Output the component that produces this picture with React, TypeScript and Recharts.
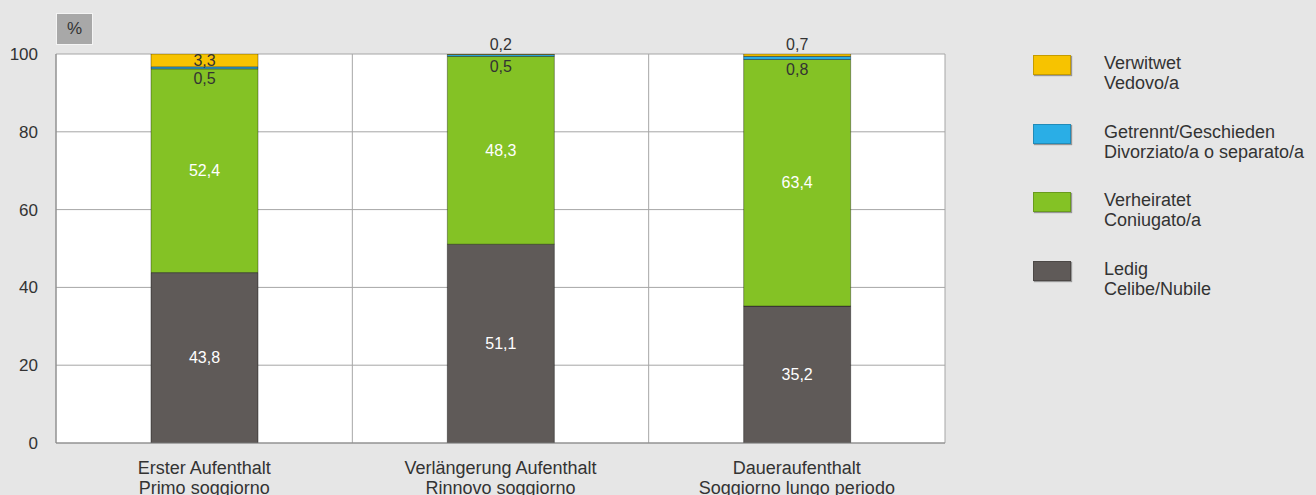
import React from 'react';
import {
  BarChart, Bar, XAxis, YAxis, CartesianGrid, LabelList,
} from 'recharts';

// categories: two-line labels (German / Italian)
const categoriesDe = ['Erster Aufenthalt', 'Verlängerung Aufenthalt', 'Daueraufenthalt'];
const categoriesIt = ['Primo soggiorno', 'Rinnovo soggiorno', 'Soggiorno lungo periodo'];

const ledig = [43.8, 51.1, 35.2];
const verheiratet = [52.4, 48.3, 63.4];
const getrennt = [0.5, 0.5, 0.8];
const verwitwet = [3.3, 0.2, 0.7];

const yTicks = [0, 20, 40, 60, 80, 100];

const series = [
  { key: 'ledig', de: 'Ledig', it: 'Celibe/Nubile', color: '#5f5a58' },
  { key: 'verheiratet', de: 'Verheiratet', it: 'Coniugato/a', color: '#84c225' },
  { key: 'getrennt', de: 'Getrennt/Geschieden', it: 'Divorziato/a o separato/a', color: '#2aaee6' },
  { key: 'verwitwet', de: 'Verwitwet', it: 'Vedovo/a', color: '#f7c300' },
];

const data = categoriesDe.map((c, i) => ({
  name: c,
  ledig: ledig[i],
  verheiratet: verheiratet[i],
  getrennt: getrennt[i],
  verwitwet: verwitwet[i],
}));

const FONT = '"Liberation Sans", Arial, sans-serif';
const fmt = (v: number) => String(v).replace('.', ',');

const CategoryTick = (props: any) => {
  const { x, y, payload, index } = props;
  return (
    <text x={x} y={y} textAnchor="middle" fill="#333" fontSize={18} fontFamily={FONT}>
      <tspan x={x} dy={23}>{payload.value}</tspan>
      <tspan x={x} dy={20}>{categoriesIt[index]}</tspan>
    </text>
  );
};

const centerLabel = (props: any) => {
  const { x, y, width, height, value } = props;
  return (
    <text x={x + width / 2} y={y + height / 2} textAnchor="middle" dominantBaseline="central"
      fill="#fff" fontSize={16} fontFamily={FONT}>{fmt(value)}</text>
  );
};

const belowLabel = (props: any) => {
  const { x, y, width, height, value } = props;
  return (
    <text x={x + width / 2} y={y + height + 10} textAnchor="middle" dominantBaseline="central"
      fill="#333" fontSize={16} fontFamily={FONT}>{fmt(value)}</text>
  );
};

const topLabel = (props: any) => {
  const { x, y, width, height, value } = props;
  const inside = value > 2;
  return (
    <text x={x + width / 2} y={inside ? y + height / 2 : y - 10} textAnchor="middle"
      dominantBaseline="central" fill="#333" fontSize={16} fontFamily={FONT}>{fmt(value)}</text>
  );
};

const LegendBox = () => (
  <div style={{ position: 'absolute', left: 1033, top: 54, fontFamily: FONT, fontSize: 18, color: '#333' }}>
    {[...series].reverse().map(s => (
      <div key={s.key} style={{ display: 'flex', alignItems: 'flex-start', height: 68.5 }}>
        <div style={{
          width: 38, height: 20, background: s.color, marginTop: 1, flexShrink: 0,
          boxShadow: '1px 1px 1px rgba(0,0,0,0.35)', border: '1px solid rgba(0,0,0,0.2)', boxSizing: 'border-box',
        }} />
        <div style={{ marginLeft: 33, lineHeight: '20px', marginTop: -1, whiteSpace: 'nowrap' }}>
          <div>{s.de}</div>
          <div>{s.it}</div>
        </div>
      </div>
    ))}
  </div>
);

// vertical grid lines at the category boundaries (plot edges included)
const boundaryLines = ({ offset }: any) =>
  [0, 1, 2, 3].map(i => offset.left + (offset.width * i) / categoriesDe.length);

export default function App() {
  return (
    <div style={{ position: 'absolute', left: 0, top: 0, width: 1316, height: 495, background: '#e6e6e6', overflow: 'hidden' }}>
      <div style={{
        position: 'absolute', left: 56, top: 13, width: 37, height: 32, background: '#a8a8a8',
        border: '1px solid #f4f4f4', boxSizing: 'border-box', display: 'flex', alignItems: 'center',
        justifyContent: 'center', fontFamily: FONT, fontSize: 17, color: '#333',
      }}>%</div>
      <BarChart width={1316} height={495} data={data} barSize={107}
        margin={{ top: 54, right: 371, bottom: 0, left: 0 }}>
        <CartesianGrid stroke="#a6a6a6" fill="#fff" verticalCoordinatesGenerator={boundaryLines} />
        <XAxis dataKey="name" tick={<CategoryTick />} tickLine={false} height={52}
          axisLine={{ stroke: '#888' }} interval={0} />
        <YAxis domain={[0, 100]} ticks={yTicks} allowDataOverflow width={56} tickLine={false}
          tickSize={0} tickMargin={18} axisLine={{ stroke: '#888' }}
          tick={{ fill: '#333', fontSize: 17, fontFamily: FONT }} />
        <Bar dataKey="ledig" stackId="a" fill={series[0].color} stroke="rgba(0,0,0,0.4)" isAnimationActive={false}>
          <LabelList dataKey="ledig" content={centerLabel} />
        </Bar>
        <Bar dataKey="verheiratet" stackId="a" fill={series[1].color} stroke="rgba(0,0,0,0.35)" isAnimationActive={false}>
          <LabelList dataKey="verheiratet" content={centerLabel} />
        </Bar>
        <Bar dataKey="getrennt" stackId="a" fill={series[2].color} stroke="rgba(0,0,0,0.4)" isAnimationActive={false}>
          <LabelList dataKey="getrennt" content={belowLabel} />
        </Bar>
        <Bar dataKey="verwitwet" stackId="a" fill={series[3].color} stroke="rgba(0,0,0,0.35)" isAnimationActive={false}>
          <LabelList dataKey="verwitwet" content={topLabel} />
        </Bar>
      </BarChart>
      <LegendBox />
    </div>
  );
}
